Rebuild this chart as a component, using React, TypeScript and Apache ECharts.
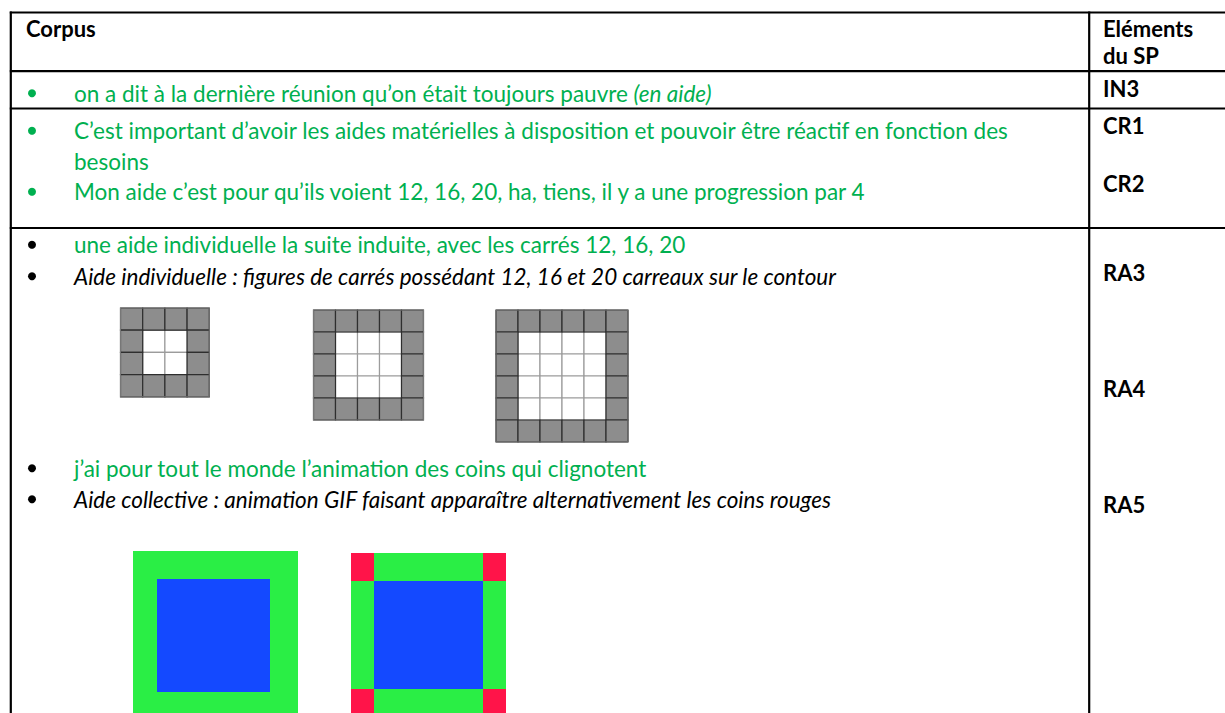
import React, { useEffect, useRef } from "react";
import * as echarts from "echarts";

// ---------- content ----------
const headerCorpus = "Corpus";
const headerCodes = ["Eléments", "du SP"];
const spCodes = ["IN3", "CR1", "CR2", "RA3", "RA4", "RA5"];
const corpusLines = [
  "on a dit à la dernière réunion qu’on était toujours pauvre ",
  "C’est important d’avoir les aides matérielles à disposition et pouvoir être réactif en fonction des",
  "besoins",
  "Mon aide c’est pour qu’ils voient 12, 16, 20, ha, tiens, il y a une progression par 4",
  "une aide individuelle la suite induite, avec les carrés 12, 16, 20",
  "Aide individuelle : figures de carrés possédant 12, 16 et 20 carreaux sur le contour",
  "j’ai pour tout le monde l’animation des coins qui clignotent",
  "Aide collective : animation GIF faisant apparaître alternativement les coins rouges",
];
const row1Tail = "(en aide)";
const lineIsNote = [false, false, false, false, false, true, false, true];
const lineHasBullet = [true, true, false, true, true, true, true, true];
const bulletIsGreen = [true, true, false, true, false, false, false, false];
const squareSides = [4, 5, 6]; // 12, 16, 20 carreaux sur le contour

// ---------- layout ----------
const W = 1225;
const H = 713;
const FONT = "Lato, 'Open Sans', sans-serif";
const FS = 22.5;
const BFS = 22;
const CENTER_OFF = 7;
const lineBaselines = [100, 137.5, 168, 198.5, 251.5, 283, 475, 506];
const codeBaselines = [95, 132, 190, 279, 395, 511];
const headerBaselines = [35, 62];
const hLines = [12.5, 71.2, 108.5, 228];
const leftX = 10.8;
const divX = 1089.2;
const textX = 74;
const bulletX = 32;
const codeX = 1103;
const gridBoxes = [
  [120.5, 308, 22.2],
  [313.5, 310, 22],
  [496, 310, 22],
];

const GREEN = "#00b050";

function txt(x: number, base: number, text: string, opts: any = {}) {
  return {
    type: "text",
    x,
    y: base - CENTER_OFF,
    style: {
      text,
      fill: opts.fill || "#000",
      fontFamily: FONT,
      fontSize: opts.fontSize || FS,
      fontWeight: opts.fontWeight || "normal",
      fontStyle: opts.fontStyle || "normal",
      verticalAlign: "middle",
      align: "left",
      rich: opts.rich,
    },
  };
}

function gridSquare(n: number, x0: number, y0: number, cell: number) {
  const whites: any[] = [];
  const grays: any[] = [];
  for (let r = 0; r < n; r++) {
    for (let c = 0; c < n; c++) {
      const border = r === 0 || c === 0 || r === n - 1 || c === n - 1;
      const el = {
        type: "rect",
        shape: { x: x0 + c * cell, y: y0 + r * cell, width: cell, height: cell },
        style: {
          fill: border ? "#8d8d8d" : "#ffffff",
          stroke: border ? "#2e2e2e" : "#9c9c9c",
          lineWidth: 1.2,
        },
      };
      (border ? grays : whites).push(el);
    }
  }
  const outline = {
    type: "rect",
    shape: { x: x0, y: y0, width: n * cell, height: n * cell },
    style: { fill: "none", stroke: "#777777", lineWidth: 1 },
  };
  return [...whites, ...grays, outline];
}

function buildGraphic() {
  const els: any[] = [];
  // table lines
  hLines.forEach((y) =>
    els.push({ type: "line", shape: { x1: leftX - 1, y1: y, x2: W, y2: y }, style: { stroke: "#000", lineWidth: 2.2 } })
  );
  els.push({ type: "line", shape: { x1: leftX, y1: hLines[0] - 1, x2: leftX, y2: H }, style: { stroke: "#000", lineWidth: 2.2 } });
  els.push({ type: "line", shape: { x1: divX, y1: hLines[0] - 1, x2: divX, y2: H }, style: { stroke: "#000", lineWidth: 2.2 } });

  // headers
  els.push(txt(26, headerBaselines[0], headerCorpus, { fontWeight: "bold", fontSize: BFS }));
  headerCodes.forEach((t, i) => els.push(txt(codeX, headerBaselines[i], t, { fontWeight: "bold", fontSize: BFS })));
  spCodes.forEach((t, i) => els.push(txt(codeX, codeBaselines[i], t, { fontWeight: "bold", fontSize: BFS })));

  // corpus lines
  corpusLines.forEach((t, i) => {
    const base = lineBaselines[i];
    const note = lineIsNote[i];
    const fill = note ? "#000" : GREEN;
    if (lineHasBullet[i]) {
      els.push({
        type: "circle",
        shape: { cx: bulletX, cy: base - 6.8, r: 4 },
        style: { fill: bulletIsGreen[i] ? GREEN : "#000" },
      });
    }
    if (i === 0) {
      els.push(
        txt(textX, base, "{n|" + t + "}{it|" + row1Tail + "}", {
          fill,
          rich: {
            n: { fill: GREEN, fontFamily: FONT, fontSize: FS },
            it: { fill: GREEN, fontFamily: FONT, fontSize: FS, fontStyle: "italic" },
          },
        })
      );
    } else {
      els.push(txt(textX, base, t, { fill, fontStyle: note ? "italic" : "normal" }));
    }
  });

  // grid figures
  squareSides.forEach((n, i) => {
    const [x0, y0, cell] = gridBoxes[i];
    els.push(...gridSquare(n, x0, y0, cell));
  });

  // GIF frames
  const G = "#2aee45";
  const B = "#1449ff";
  const R = "#ff1449";
  els.push({ type: "rect", shape: { x: 133, y: 551, width: 165, height: 166 }, style: { fill: G } });
  els.push({ type: "rect", shape: { x: 157, y: 579, width: 113, height: 113 }, style: { fill: B } });

  const x2 = 351, y2 = 553, cw = 23, ch = 28, bw = 109, bh = 108;
  els.push({ type: "rect", shape: { x: x2, y: y2, width: cw * 2 + bw, height: ch * 2 + bh }, style: { fill: G } });
  els.push({ type: "rect", shape: { x: x2 + cw, y: y2 + ch, width: bw, height: bh }, style: { fill: B } });
  [
    [x2, y2],
    [x2 + cw + bw, y2],
    [x2, y2 + ch + bh],
    [x2 + cw + bw, y2 + ch + bh],
  ].forEach(([x, y]) => els.push({ type: "rect", shape: { x, y, width: cw, height: ch }, style: { fill: R } }));

  return els;
}

export default function App() {
  const ref = useRef<HTMLDivElement>(null);
  useEffect(() => {
    if (!ref.current) return;
    const chart = echarts.init(ref.current, undefined, { renderer: "svg" });
    chart.setOption({
      animation: false,
      backgroundColor: "#ffffff",
      graphic: { elements: buildGraphic() },
    });
    return () => chart.dispose();
  }, []);
  return (
    <div
      ref={ref}
      style={{ position: "fixed", left: 0, top: 0, width: W, height: H, background: "#fff" }}
    />
  );
}
